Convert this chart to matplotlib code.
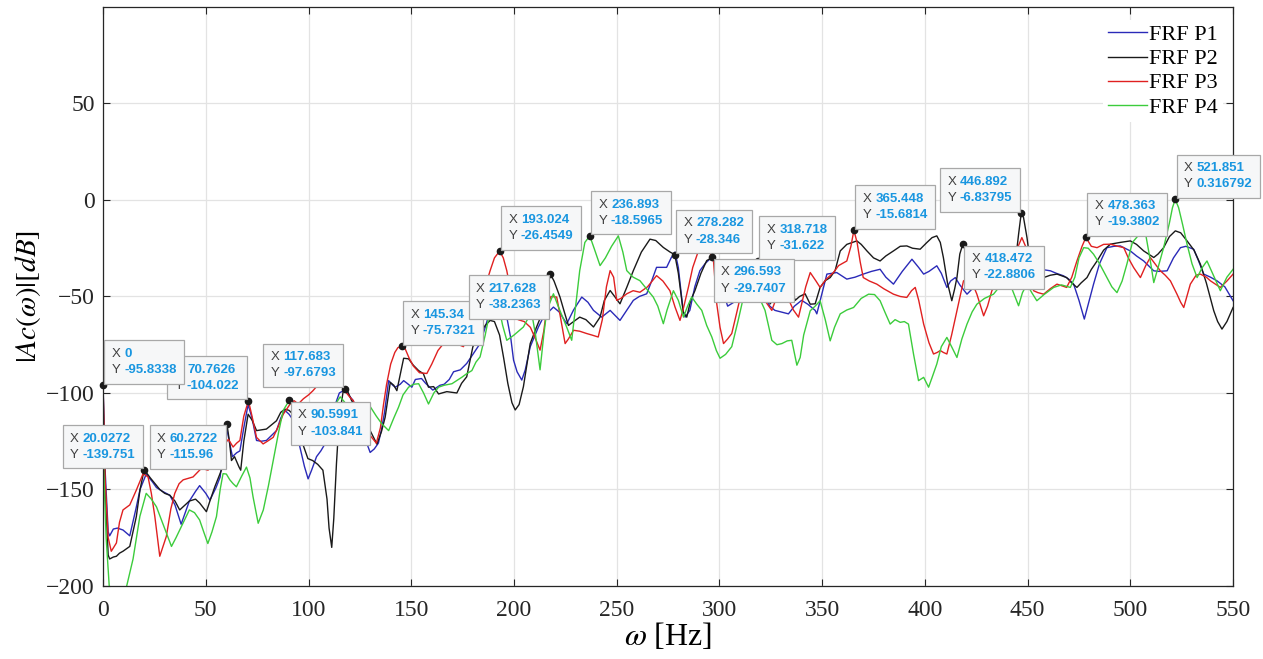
import matplotlib
matplotlib.use("Agg")
import matplotlib.pyplot as plt
from matplotlib.offsetbox import TextArea, HPacker, VPacker, AnnotationBbox

plt.rcParams['font.family'] = ['Liberation Serif', 'DejaVu Serif']
plt.rcParams['mathtext.fontset'] = 'stix'

# ---- FRF magnitude curves (frequency in Hz, magnitude in dB) ----
p1_f = [0, 1, 2.5, 3.2, 5, 7, 9.7, 13, 16, 18, 21, 24, 26, 29, 32.5, 35, 38, 40, 42, 45, 47, 50, 52, 55, 57,
        59, 60.3, 62, 63, 65, 66.6, 68.5, 70.6, 72.5, 74.7, 77, 79.5, 82, 84.4, 86.5, 88.5, 90.5, 92.5, 95.8,
        98, 99.8, 101.5, 103.9, 106, 108.8, 111, 113, 115, 117.5, 119.5, 121.8, 124, 126, 128, 130, 132, 134,
        135.5, 137, 139, 141, 142.2, 144.6, 146.3, 148, 150.3, 152, 155, 157, 160.5, 164, 166, 168.5, 170.6,
        173.9, 177, 180, 183.5, 186, 188.4, 190.5, 192.9, 194.5, 196.5, 198.5, 199.8, 201.5, 203.8, 205.5,
        207.9, 211.9, 214.3, 219.2, 222, 225.7, 229, 233, 236, 238.7, 242.7, 246.8, 251.6, 255, 258.1, 261,
        264.6, 267, 269.4, 274.3, 276.5, 278.4, 280, 282.4, 283.3, 285.6, 288, 290.5, 293, 296.2, 298.5, 301,
        304, 307, 310, 313, 316, 319, 322, 324.5, 327, 330, 333.6, 336.5, 340, 343, 346.6, 347.4, 350, 352.3,
        357.1, 362, 366, 370, 374, 378.2, 381, 384.7, 389, 393.7, 397, 399.4, 402, 405.8, 408, 410.7, 412.5,
        414.8, 417, 420.5, 424, 428, 432, 437, 440, 443.2, 447, 452.9, 457, 461.1, 464, 467.5, 470, 472.4,
        475, 477.6, 480, 482.1, 485, 488.6, 492, 495.1, 500, 503, 506.5, 511.4, 514, 517.9, 521, 524.4, 527,
        530.8, 533, 535.7, 539, 542.2, 546, 550]
p1_db = [-95.8, -140, -172, -174, -170.5, -170, -171, -174, -160, -150, -142, -146, -149, -151, -153, -158,
         -168, -162, -156, -151, -148, -152, -155.5, -149, -143.5, -125, -119, -128, -133, -131, -130, -118,
         -106, -113, -124.6, -125, -124.6, -122, -119.5, -113, -109, -111, -114, -128, -138, -144.5, -140,
         -133, -130, -125, -114, -106, -100, -98.5, -101, -104, -114, -121, -125, -130.8, -129, -126, -119,
         -110, -93.6, -96, -97, -95.5, -93.6, -95, -97, -93, -92.5, -95, -98.5, -96, -95.5, -93, -89, -88,
         -84.7, -80, -74.4, -66, -57.2, -52, -50.3, -53, -60.7, -72, -83, -89, -93.3, -88, -76.1, -65.8,
         -60.7, -55.5, -58, -64.1, -57, -50.3, -53, -57.2, -60.7, -57.2, -62.4, -57, -52, -50, -48.6, -42,
         -34.9, -34.9, -30, -27, -35, -58, -60.7, -57.2, -45, -36.6, -33, -29.7, -35, -45, -55, -53, -48,
         -45, -42, -44, -50, -55, -57.2, -58, -59, -55, -52, -54, -57.2, -59, -48, -38.4, -37.6, -41, -40,
         -38.4, -37, -35.9, -40, -43.6, -37, -30.7, -35, -38.4, -37, -34.1, -38, -45.3, -42, -40.2, -44,
         -48.8, -45, -44, -45, -42, -36, -31.6, -33, -35, -36, -36.7, -38, -39.3, -41, -43.6, -52, -61.7,
         -52, -43.6, -33, -24.7, -24, -23.8, -26.4, -29, -31.6, -36.7, -37, -36.7, -30, -24.7, -24, -25.5,
         -31, -38.4, -40, -41.9, -45, -52.2]

p2_f = [0, 1, 2.5, 3.2, 5, 6.5, 8, 9.7, 13, 16.2, 18, 20.0272, 23, 27.6, 30, 32.5, 35, 37.3, 40, 42, 45, 47,
        50.3, 52, 54.4, 57.6, 59, 60.2722, 61.5, 62.5, 64, 66.2, 67, 68.5, 70.6, 72.5, 74.7, 79.5, 82, 84.4,
        86.5, 88.5, 90.5, 92.5, 94.5, 96.6, 99.7, 102, 104.5, 107, 109, 110, 111.3, 112.3, 113.6, 115, 116.9,
        117.683, 119, 121, 123.5, 126, 130, 133.3, 135.5, 137.3, 139.8, 141.5, 143, 146.3, 148.7, 151, 153.6,
        155.9, 158.4, 160.9, 163.3, 167.3, 172.2, 174.5, 177, 180, 183.5, 186, 188.4, 190.5, 193, 195, 197,
        199, 200.6, 202.5, 204.6, 207.9, 211, 214.3, 216, 217.628, 219.5, 222.4, 224.5, 226.5, 229, 232, 235,
        238.7, 241.9, 244, 246.8, 249, 251.6, 255, 258.1, 262, 266.2, 269, 272.7, 276, 278.282, 280, 282.4,
        284.1, 286, 288.1, 291, 293.8, 296.593, 298, 300, 303, 306, 310, 314, 316.5, 318.718, 320.5, 322.5,
        324.7, 327, 330, 333.6, 335, 336.9, 339, 341.7, 344.2, 346.6, 349, 351.5, 353.9, 356.3, 358.8, 362,
        366.9, 369, 371.8, 375, 378.2, 381, 384.7, 388, 391.2, 394, 397.7, 401, 403.5, 405.8, 407.5, 409,
        411, 413.1, 414.5, 415.6, 417, 418.472, 420, 423.7, 427, 430, 433, 436.7, 440, 443.2, 444.5, 445.6,
        446.892, 448, 449.7, 451, 452.9, 455, 457.8, 461, 464.3, 469, 471.5, 474, 476, 478.9, 481, 483.8,
        487, 490.3, 495, 500, 503, 506.5, 511.4, 513.5, 516.2, 519, 521.9, 524.5, 527.6, 531, 534.1, 537,
        540.6, 542.5, 544.6, 547, 550]
p2_db = [-95.8, -150, -184, -186, -185, -184.6, -183, -182, -179.5, -164, -150, -139.751, -144, -150, -152,
         -153, -156, -160.6, -158, -156, -155, -157, -161.5, -156, -148.6, -140, -132, -115.96, -125, -135,
         -133, -138.4, -140, -125, -111, -114, -119.5, -118.7, -116.5, -114.4, -110, -108.4, -109, -111, -117,
         -124.6, -134, -135, -137, -140, -155, -170, -180, -165, -136.6, -112, -99, -97.6793, -99, -104, -108,
         -112.6, -119.5, -126.5, -120, -112.6, -94.5, -96, -98.8, -82, -82.3, -85.6, -88.4, -90, -97, -96.7,
         -100.5, -99.3, -100, -95, -91.6, -76, -69.2, -65, -62.4, -63, -70, -82, -95, -105, -108.8, -106,
         -96.7, -74.4, -65.8, -57.2, -47, -38.2363, -42, -50.3, -58, -65, -63, -60.7, -62, -65.8, -60.7, -52,
         -46.9, -50, -53.8, -45, -36.6, -27, -20.3, -21, -24.6, -27, -28.346, -38, -58, -60.7, -52, -46.9,
         -38, -31.4, -29.7407, -32, -40, -50, -48, -42, -36, -33, -31.622, -36, -45, -53.8, -50, -44, -40,
         -46, -52, -50, -48.6, -54, -53.8, -45.3, -41.8, -40.2, -36.6, -26.4, -23, -21.2, -23, -26.4, -30,
         -31.6, -29, -26.4, -24, -23.8, -25, -25.5, -22, -19.5, -18.6, -22, -29.8, -43, -52.2, -46, -40.2,
         -28, -22.8806, -25, -31.6, -35, -37, -39, -40.2, -39, -38.4, -28, -17.8, -6.83795, -9, -19.5, -30,
         -38.4, -40, -40.2, -39, -38.4, -40.2, -43, -45.3, -43, -40.2, -36, -31.6, -26, -22.9, -22, -21.2,
         -23, -26.4, -29.8, -28, -24.7, -19, -16, -17, -21.2, -26, -33.3, -43, -57.4, -63, -66.9, -63, -55.7]

p3_f = [0, 1, 2.5, 4, 6.5, 8, 9.7, 13, 16.2, 19.5, 21.9, 23.5, 25.2, 27.6, 30.8, 33, 34.9, 37, 39, 43.8,
        47.9, 51.1, 53, 55.2, 59.3, 61, 63.3, 65, 66.6, 68.5, 70.7626, 72.5, 74.7, 77.9, 80, 82.8, 85, 87.7,
        91, 93, 95, 97.5, 100, 102, 104.5, 107, 110, 112, 115, 117, 120, 121.8, 125, 128, 130, 133, 135,
        136.5, 138, 140, 142, 143.5, 145.34, 147, 149, 151, 154, 157.6, 160, 163, 165.7, 168, 171, 175.4,
        178.7, 181, 183.5, 186, 188.4, 190.5, 193.024, 194.8, 196.5, 198, 199.8, 202, 205, 208, 210.5, 212.7,
        214.5, 216, 218, 220.8, 222.5, 224.9, 226.5, 229, 232, 235.4, 238, 241, 243, 245, 246.8, 248.5, 250,
        252, 254.9, 258, 261.3, 265, 269.4, 272.5, 275.9, 278.4, 280.8, 282.5, 284.9, 287, 289.8, 292, 295,
        297, 298.7, 300.3, 302, 304, 306, 308.5, 310.9, 313, 316, 319, 322, 325.5, 328, 331, 333, 336, 338.5,
        340, 342, 344.2, 347, 349, 352, 355.5, 358, 362, 364, 365.448, 367, 368.5, 370, 373, 376.6, 380,
        384.7, 388, 391.2, 393.5, 395.3, 397, 399.4, 402, 404.2, 406, 407.5, 409, 410.7, 413, 415.6, 418.8,
        422, 425.3, 428.6, 430.5, 432.6, 436.7, 440, 443, 445, 447.2, 449, 451, 452.9, 455, 457.8, 461, 464.3,
        469, 471.5, 474, 476.5, 478.363, 481, 483.8, 487, 490.3, 494, 496.8, 499, 501.6, 504.9, 507.5, 509.7,
        512, 514.6, 517, 519.5, 522.7, 524.5, 526, 527.5, 529.2, 532, 534.1, 537, 539, 543.8, 547, 550]
p3_db = [-96, -145, -175, -182, -177.7, -167, -160.6, -158, -150.3, -141.8, -143.5, -152, -164, -184.6,
         -174.3, -160, -152, -147, -145, -143.5, -139, -140, -136, -133, -126.4, -124, -128, -126, -124.6,
         -112, -104.022, -112, -123, -126.4, -125, -123, -118, -111, -105.8, -104, -105.7, -103, -101, -99,
         -96, -95, -92, -91, -95, -98, -102, -104, -112, -118, -122, -126, -118, -106, -95.5, -85, -79, -76.5,
         -75.7321, -77, -82, -86, -89.5, -89.9, -85, -78, -74.4, -73, -74, -76, -67.5, -60, -53.8, -45, -36.6,
         -30, -26.4549, -30, -36.6, -45, -57, -62, -63, -66, -72, -77.8, -68, -55.5, -50, -50.3, -60, -74.4,
         -72, -67.5, -68, -69.2, -70, -71, -62, -45, -36.6, -40, -52, -51, -48.6, -47, -47.8, -45, -39.2,
         -42, -47, -55.5, -62.4, -56, -45.2, -35, -26.3, -24, -27, -30, -53.8, -66, -74.4, -72, -69.2, -58,
         -46.9, -42, -45, -48, -52, -57.2, -50, -46, -50, -57, -60.7, -54, -45, -37.6, -42, -45.3, -41, -37.6,
         -34, -31.6, -24, -15.6814, -22, -32, -40.2, -42, -43.6, -46, -48.8, -50, -50.5, -47, -45.3, -52,
         -64.3, -74, -79.8, -79, -78, -79, -79.8, -70, -57.4, -41.9, -40.2, -48.8, -60, -55, -47, -40, -37,
         -33, -25, -19.5, -24, -31.6, -47, -48, -48.8, -46, -43.6, -45.3, -40, -31.6, -24, -19.3802, -24,
         -24.7, -23, -22.9, -24, -24.7, -30, -35, -40.2, -34, -29.8, -33, -36.7, -39, -41.9, -48.8, -53,
         -55.7, -50, -43.6, -39, -38.4, -40, -41.9, -45.3, -42, -38.4]

p4_f = [0, 1.5, 3, 5, 9, 11.5, 14.6, 17.9, 21, 23.5, 26, 28.5, 30.8, 33.3, 35.5, 37.3, 40, 42, 44.5, 47, 49,
        51, 53, 55.2, 57, 58.4, 60, 61.7, 63.3, 64.9, 67.5, 69.8, 71.5, 73, 75.5, 78, 80.5, 82.8, 85.5, 87.7,
        90.5991, 93, 95.8, 100, 105, 110, 113, 115.4, 117, 120, 124, 127.6, 130, 133, 135.7, 139, 141.5,
        143.8, 146, 148.7, 151, 153.6, 156, 158.4, 161, 163.3, 166, 169.8, 174.7, 177, 179.5, 181.5, 183.5,
        186, 188.4, 190.5, 192.5, 194.5, 196.5, 200, 204.6, 206.5, 208.7, 210.5, 212.7, 214.5, 216, 219.2,
        221.5, 225.7, 228.1, 230, 232, 234.5, 236.893, 239, 241.9, 244.5, 247.5, 250.8, 253, 254.9, 258,
        261.3, 264.5, 267.8, 270, 272.7, 274.5, 277.6, 280, 282.5, 284.5, 286.5, 289, 291.4, 293.8, 296.3,
        298.5, 300.3, 303, 306, 309, 311.7, 314, 317, 320, 322.2, 325.5, 328, 330.4, 333, 335.2, 337.7, 339.3,
        341, 344.2, 346.6, 349, 351.5, 353.9, 356, 358.8, 362, 365.3, 369, 372.6, 375.5, 378.2, 380.5, 383.1,
        385.5, 388, 390, 392, 394.5, 396.9, 399.4, 401.8, 403.5, 405.8, 408, 410.7, 413, 415.6, 418, 420.5,
        423, 425.3, 429, 433.4, 437, 439.9, 442, 445.6, 447.5, 449.7, 452, 454.5, 458, 462.7, 466.5, 470.8,
        473, 475, 477.3, 479.5, 482.1, 485, 488.6, 491, 493.5, 496, 498.3, 501, 505, 507.5, 509.5, 511.4,
        513.5, 516.2, 519, 520.5, 521.851, 523.5, 525.5, 527.6, 530, 532.5, 535, 537.3, 540, 543.8, 547, 550]
p4_db = [-130, -175, -200, -215, -212, -200, -186, -164, -152, -155, -159, -166, -172.6, -179.5, -175, -171,
         -165, -160.6, -162, -165.8, -172, -178, -172, -164, -150, -141.8, -142, -145, -147, -148.6, -143,
         -138.4, -144, -153.8, -167.5, -160.6, -148, -135, -120, -109, -103.841, -108, -114.4, -120, -118,
         -112, -106, -102, -104, -108, -106, -105.7, -107, -112, -116, -119.5, -113, -107.4, -101, -97, -95.5,
         -95.2, -100, -105.7, -100, -97, -96, -95.2, -91.8, -90, -88.4, -84, -81.3, -70, -57.2, -52, -55, -65,
         -72.7, -70, -65.8, -62, -59, -70, -88, -70, -57.2, -48.6, -55, -66, -72.7, -55, -36.6, -22, -18.5965,
         -25, -34, -30, -24, -18.6, -27, -36.6, -40, -41.8, -46, -50.3, -55, -64.1, -57, -47, -52, -60.7, -55,
         -50.3, -54, -57.2, -65, -71, -78, -82, -80, -76, -63, -50.3, -45, -47, -52, -57.2, -72.7, -75, -74.4,
         -73, -72.7, -85.6, -81.6, -70, -57.4, -55, -52.2, -62, -73, -66, -59, -57, -55.7, -51, -48.8, -49,
         -52.2, -58, -64.3, -62, -63.4, -63, -64.3, -80, -93.6, -91.9, -97, -92, -85, -76, -71.2, -76, -81.6,
         -72, -64.3, -58, -54, -51, -48.8, -44, -40.2, -45, -54.8, -48, -43.6, -48, -52.2, -49, -45.3, -44,
         -45.3, -40, -30, -24.7, -25, -28.1, -33, -40.2, -45, -48, -42, -33.3, -22, -17, -18, -30, -42.8, -35,
         -24.7, -12, -4, 0.316792, -4, -13, -22.9, -33, -40.2, -35, -31.6, -38, -47, -40, -35.9]

series_labels = ['FRF P1', 'FRF P2', 'FRF P3', 'FRF P4']
series_colors = ['#2a2ab8', '#1a1a1a', '#e02020', '#3ccc3c']

# ---- data tips: (x, y, box placement); later entries are drawn on top ----
tip_x = [70.7626, 0, 20.0272, 60.2722, 90.5991, 117.683, 145.34, 193.024, 217.628, 236.893,
         318.718, 278.282, 296.593, 365.448, 418.472, 446.892, 478.363, 521.851]
tip_y = [-104.022, -95.8338, -139.751, -115.96, -103.841, -97.6793, -75.7321, -26.4549, -38.2363,
         -18.5965, -31.622, -28.346, -29.7407, -15.6814, -22.8806, -6.83795, -19.3802, 0.316792]
tip_side = ['ul', 'ur', 'ul', 'll', 'lr', 'ul', 'ur', 'ur', 'll',
            'ur', 'ur', 'ur', 'lr', 'ur', 'lr', 'ul', 'ur', 'ur']

x_ticks = [0, 50, 100, 150, 200, 250, 300, 350, 400, 450, 500, 550]
y_ticks = [-200, -150, -100, -50, 0, 50]

fig = plt.figure(figsize=(12.63, 6.59), dpi=100)
ax = fig.add_axes([0.0816, 0.1108, 0.8947, 0.8786])

curves = [(p1_f, p1_db), (p2_f, p2_db), (p3_f, p3_db), (p4_f, p4_db)]
for (f, db), lab, col in zip(curves, series_labels, series_colors):
    ax.plot(f, db, color=col, lw=1.0, label=lab)

ax.set_xlim(0, 550)
ax.set_ylim(-200, 100)
ax.set_xticks(x_ticks)
ax.set_yticks(y_ticks)
ax.grid(True, color='#e3e3e3', lw=0.9)
ax.set_axisbelow(True)
ax.tick_params(direction='in', length=5, width=0.8, colors='#262626',
               labelsize=17, top=True, right=True)
ax.tick_params(axis='x', pad=10)
ax.tick_params(axis='y', pad=6)
for s in ax.spines.values():
    s.set_color('#262626')
    s.set_linewidth(0.9)

ax.set_xlabel(r'$\omega$ [Hz]', fontsize=23, labelpad=0)
ax.set_ylabel(r'$|Ac(\omega)|[dB]$', fontsize=21, labelpad=2)

leg = ax.legend(loc='upper right', bbox_to_anchor=(0.991, 0.978), frameon=True, framealpha=1.0,
                edgecolor='none', facecolor='white', fontsize=16, handlelength=1.75,
                handletextpad=0.1, labelspacing=0.16, borderpad=0.22, borderaxespad=0.0)
leg.set_zorder(5)

# data tip markers and boxes
gap = 6.5
offsets = {'ur': ((0, 0), (gap, gap)), 'ul': ((1, 0), (-gap, gap)),
           'lr': ((0, 1), (gap, -gap)), 'll': ((1, 1), (-gap, -gap))}
for i, (tx, ty, side) in enumerate(zip(tip_x, tip_y, tip_side)):
    ax.plot(tx, ty, 'o', ms=4.5, color='#1a1a1a', zorder=6 + 2 * i, clip_on=False)
    rows = []
    for name, val in (('X', tx), ('Y', ty)):
        t1 = TextArea(name + ' ', textprops=dict(color='#404040', fontsize=9.5,
                                                 family='Liberation Sans'))
        t2 = TextArea('%g' % val, textprops=dict(color='#1996e0', fontsize=9.5,
                                                 family='Liberation Sans', fontweight='bold'))
        rows.append(HPacker(children=[t1, t2], align='baseline', pad=0, sep=0))
    box = VPacker(children=rows, align='left', pad=0, sep=3)
    align, off = offsets[side]
    ab = AnnotationBbox(box, (tx, ty), xybox=off, xycoords='data', boxcoords='offset points',
                        box_alignment=align, frameon=True, annotation_clip=False,
                        bboxprops=dict(facecolor='#f6f7f8', edgecolor='#a8a8a8', lw=0.9,
                                       boxstyle='square,pad=0.55'))
    ab.set_zorder(7 + 2 * i)
    ax.add_artist(ab)

fig.savefig('out.png', dpi=100)
